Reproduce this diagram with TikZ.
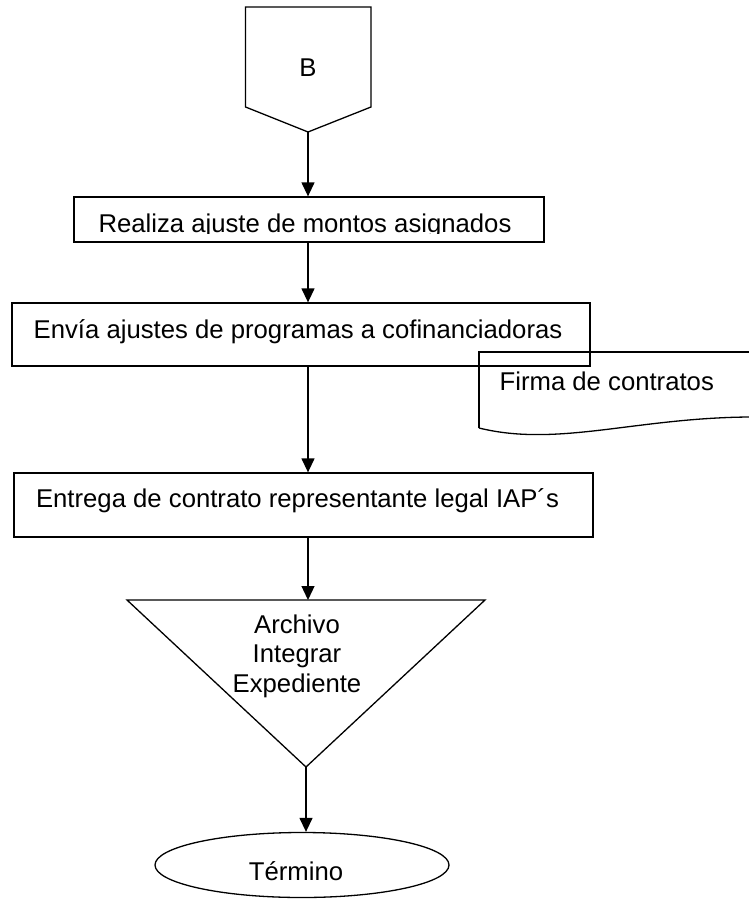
\documentclass[tikz,border=0pt]{standalone}
\usepackage{fontspec}
\setmainfont{Liberation Sans}
\usetikzlibrary{arrows.meta,shapes.geometric}

\begin{document}
\begin{tikzpicture}
	[
	x=1pt, y=-1pt,
	line width=1.3pt,
	font=\fontsize{25.7}{29.5}\selectfont,
	box/.style={draw, rectangle, inner sep=0pt},
	txt/.style={anchor=base, inner sep=0pt},
	arr/.style={-{Triangle[width=13pt,length=14pt]}},
	]
		\useasboundingbox (0,0) rectangle (749,899);

		% conector B
		\draw (245.5,7) -- (371,7) -- (371,107) -- (308,132) -- (245.5,107) -- cycle;
		\node[txt] (B) at 		(308,76) {B};
		\coordinate (Bpt) at 	(308,132);

		% ajuste de montos
		\node[box, minimum width=470, minimum height=45] (ajuste) at (309,219.5) {};
		\begin{scope}
			\clip (74,197) rectangle (544,233.5);
			\node[txt] (ajusteT) at (305,232) {Realiza ajuste de montos asignados};
		\end{scope}

		% envio a cofinanciadoras
		\node[box, minimum width=578, minimum height=63] (envia) at (301,334.5) {};
		\node[txt] (enviaT) at 	(298,338) {Envía ajustes de programas a cofinanciadoras};

		% documento
		\draw (479,428) -- (479,352) -- (760,352);
		\draw (479,428) .. controls (560,448) and (640,416) .. (760,417);
		\node[txt, anchor=base west] (firma) at (499,390) {Firma de contratos};

		% entrega de contrato
		\node[box, minimum width=579, minimum height=64] (entrega) at (303.5,505) {};
		\node[txt] (entregaT) at (297.5,507) {Entrega de contrato representante legal IAP´s};

		% archivo
		\draw (127,600) -- (485,600) -- (306,767) -- cycle;
		\coordinate (triTop) at (308,600);
		\coordinate (triBot) at (306,767);
		\node[align=center, inner sep=0pt] (archivo) at (297,656) {Archivo\\Integrar\\Expediente};

		% termino
		\node[draw, ellipse, minimum width=294, minimum height=65, inner sep=0pt] (termino) at (302,865) {};
		\node[txt] (terminoT) at (296,880) {Término};

		% flechas
		\draw[arr] (Bpt) -- (Bpt |- ajuste.north);
		\draw[arr] (ajuste.south -| Bpt) -- (envia.north -| Bpt);
		\draw[arr] (envia.south -| Bpt) -- (entrega.north -| Bpt);
		\draw[arr] (entrega.south -| Bpt) -- (triTop);
		\draw[arr] (triBot) -- (termino.north -| triBot);

	\end{tikzpicture}
\end{document}
